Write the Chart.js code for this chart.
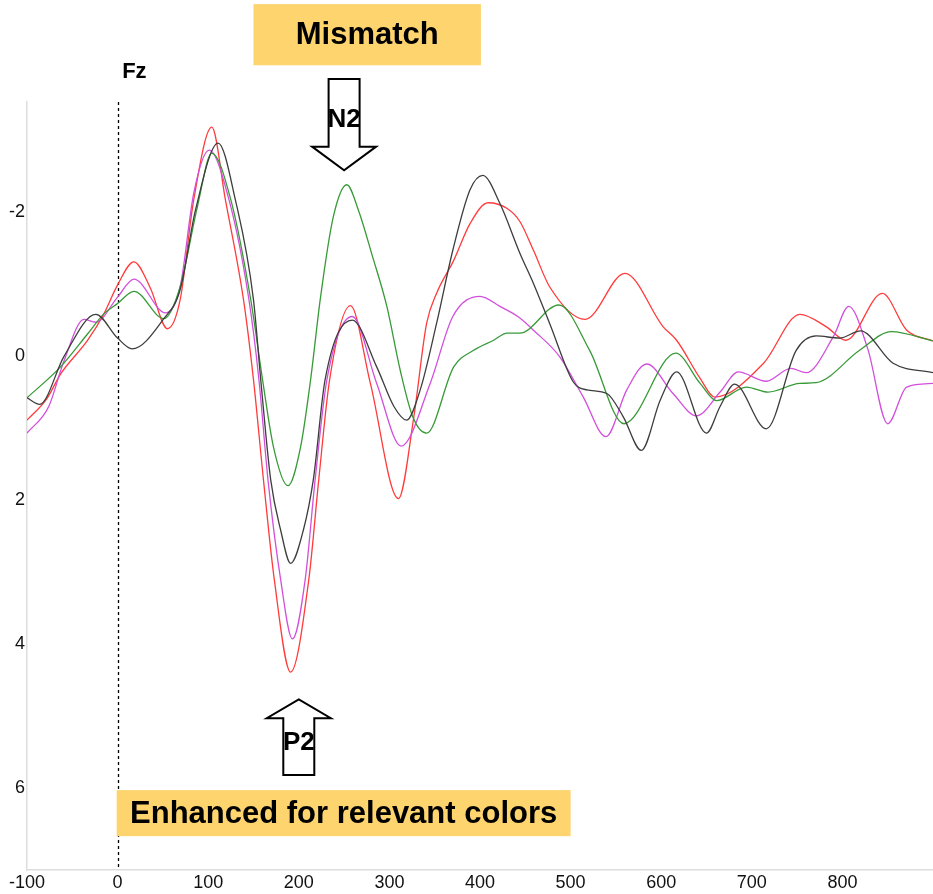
<!DOCTYPE html>
<html>
<head>
<meta charset="utf-8">
<script src="https://cdn.jsdelivr.net/npm/chart.js@4.4.0/dist/chart.umd.min.js"></script>
<style>
  html, body { margin: 0; padding: 0; background: #fff; }
  #wrap { width: 933px; height: 894px; position: relative; }
</style>
</head>
<body>
<div id="wrap"><canvas id="erp"></canvas></div>
<script>
// Fz waveforms: time (ms) / amplitude (uV), negative plotted upward
const redT = [-100, -78, -63, -33, -15, 0, 18, 36, 55, 69, 84, 104, 119, 139, 150, 161, 173, 191, 211, 222, 234, 257, 279, 310, 327, 341, 352, 371, 389, 409, 430, 444, 459, 477, 516, 560, 602, 617, 643, 659, 713, 753, 782, 804, 844, 871, 900];
const redV = [0.89, 0.59, 0.25, -0.22, -0.59, -0.99, -1.31, -0.95, -0.38, -0.78, -2.17, -3.18, -2.17, -0.78, 0.33, 1.72, 3.11, 4.39, 3.11, 1.72, 0.33, -0.70, 0.38, 1.98, 0.84, -0.45, -0.87, -1.33, -1.84, -2.13, -2.05, -1.87, -1.47, -0.96, -0.51, -1.15, -0.41, -0.22, 0.31, 0.57, 0.10, -0.58, -0.41, -0.22, -0.87, -0.36, -0.21];

const magentaT = [-100, -76, -59, -37, -24, 0, 18, 53, 69, 84, 101, 123, 145, 156, 166, 180, 193, 207, 218, 231, 259, 286, 313, 345, 370, 400, 422, 444, 459, 488, 514, 539, 562, 584, 613, 639, 665, 685, 716, 743, 760, 790, 807, 828, 850, 871, 900];
const magentaV = [1.07, 0.70, 0.06, -0.51, -0.47, -0.82, -1.07, -0.60, -0.96, -2.26, -2.86, -2.17, -0.78, 0.33, 1.72, 3.11, 3.93, 3.11, 1.72, 0.33, -0.55, 0.38, 1.25, 0.38, -0.55, -0.83, -0.69, -0.53, -0.36, 0.01, 0.57, 1.12, 0.47, 0.11, 0.52, 0.83, 0.50, 0.22, 0.35, 0.17, 0.23, -0.27, -0.69, -0.10, 0.94, 0.43, 0.38];

const greenT = [-100, -63, -33, -15, 0, 18, 51, 69, 88, 104, 125, 147, 160, 172, 188, 202, 213, 224, 238, 253, 266, 281, 297, 312, 326, 341, 371, 393, 415, 430, 444, 487, 521, 559, 616, 643, 661, 694, 718, 753, 771, 819, 854, 900];
const greenV = [0.58, 0.15, -0.31, -0.59, -0.73, -0.90, -0.52, -0.96, -2.07, -2.82, -2.17, -0.78, 0.33, 1.26, 1.80, 1.26, 0.33, -0.82, -1.93, -2.38, -2.02, -1.40, -0.70, 0.20, 0.85, 1.07, 0.15, -0.08, -0.22, -0.32, -0.32, -0.71, -0.08, 0.94, -0.04, 0.38, 0.62, 0.43, 0.50, 0.38, 0.37, -0.08, -0.34, -0.21];

const blackT = [-100, -86, -59, -24, 0, 16, 51, 69, 86, 111, 130, 150, 158, 169, 180, 191, 205, 216, 229, 259, 286, 305, 319, 334, 352, 370, 389, 403, 422, 444, 459, 477, 503, 518, 540, 558, 578, 599, 617, 650, 665, 681, 716, 749, 771, 797, 820, 856, 900];
const blackV = [0.58, 0.67, 0.00, -0.58, -0.25, -0.10, -0.52, -0.92, -2.03, -2.96, -2.17, -0.78, 0.33, 1.72, 2.42, 2.88, 2.42, 1.72, 0.33, -0.50, 0.15, 0.70, 0.89, 0.47, -0.45, -1.47, -2.31, -2.51, -2.12, -1.43, -1.01, -0.45, 0.36, 0.47, 0.52, 0.84, 1.31, 0.61, 0.22, 1.07, 0.70, 0.39, 1.01, -0.08, -0.28, -0.25, -0.35, 0.10, 0.23];

const xTicks = [-100, 0, 100, 200, 300, 400, 500, 600, 700, 800];
const yTicks = [-2, 0, 2, 4, 6];

const FONT = "'Liberation Sans', Arial, sans-serif";

function toPoints(ts, vs) {
    return ts.map((t, i) => ({ x: t, y: vs[i] }));
}

// first dataset ends up on top
const series = [
    { t: blackT, v: blackV, color: '#3d3d3d' },
    { t: greenT, v: greenV, color: '#379a37' },
    { t: magentaT, v: magentaV, color: '#d24fdc' },
    { t: redT, v: redV, color: '#ff3b3b' }
];

function drawArrow(ctx, cx, y0, y1, y2, shaftHalf, headHalf) {
    // y0 = shaft end, y1 = head base, y2 = tip
    ctx.beginPath();
    ctx.moveTo(cx - shaftHalf, y0);
    ctx.lineTo(cx + shaftHalf, y0);
    ctx.lineTo(cx + shaftHalf, y1);
    ctx.lineTo(cx + headHalf, y1);
    ctx.lineTo(cx, y2);
    ctx.lineTo(cx - headHalf, y1);
    ctx.lineTo(cx - shaftHalf, y1);
    ctx.closePath();
    ctx.fillStyle = '#fff';
    ctx.fill();
    ctx.lineWidth = 2;
    ctx.strokeStyle = '#000';
    ctx.stroke();
}

function labelBox(ctx, x0, y0, x1, y1, text, size) {
    ctx.fillStyle = '#fed46e';
    ctx.fillRect(x0, y0, x1 - x0, y1 - y0);
    ctx.fillStyle = '#000';
    ctx.font = 'bold ' + size + 'px ' + FONT;
    ctx.textAlign = 'center';
    ctx.textBaseline = 'middle';
    ctx.fillText(text, (x0 + x1) / 2, (y0 + y1) / 2 + 1);
}

const onsetLine = {
    id: 'onsetLine',
    beforeDatasetsDraw(chart) {
        const { ctx, chartArea, scales } = chart;
        const x = Math.round(scales.x.getPixelForValue(0)) + 0.5;
        ctx.save();
        ctx.strokeStyle = '#000';
        ctx.lineWidth = 1.3;
        ctx.setLineDash([3, 3]);
        ctx.beginPath();
        ctx.moveTo(x, chartArea.top);
        ctx.lineTo(x, chartArea.bottom);
        ctx.stroke();
        ctx.restore();
    }
};

const annotations = {
    id: 'annotations',
    afterDatasetsDraw(chart) {
        const { ctx, scales } = chart;
        const px = v => scales.x.getPixelForValue(v);
        const py = v => scales.y.getPixelForValue(v);
        ctx.save();

        // electrode name
        ctx.fillStyle = '#000';
        ctx.font = 'bold 22px ' + FONT;
        ctx.textAlign = 'left';
        ctx.textBaseline = 'alphabetic';
        ctx.fillText('Fz', px(5), py(-3.86));

        labelBox(ctx, px(150), py(-4.89), px(401), py(-4.04), 'Mismatch', 31);
        labelBox(ctx, px(-1), py(6.03), px(500), py(6.67), 'Enhanced for relevant colors', 31);

        // N2 arrow (pointing down)
        drawArrow(ctx, px(250), py(-3.85), py(-2.91), py(-2.58), 15.5, 32);
        // P2 arrow (pointing up)
        drawArrow(ctx, px(200), py(5.82), py(5.03), py(4.77), 15.5, 32);

        ctx.fillStyle = '#000';
        ctx.font = 'bold 26px ' + FONT;
        ctx.textAlign = 'center';
        ctx.textBaseline = 'middle';
        ctx.fillText('N2', px(250), py(-3.28));
        ctx.fillText('P2', px(200), py(5.375));
        ctx.restore();
    }
};

new Chart(document.getElementById('erp'), {
    type: 'line',
    data: {
        datasets: series.map(s => ({
            data: toPoints(s.t, s.v),
            borderColor: s.color,
            borderWidth: 1.3,
            pointRadius: 0,
            fill: false,
            cubicInterpolationMode: 'monotone'
        }))
    },
    options: {
        responsive: true,
        maintainAspectRatio: false,
        animation: false,
        layout: { padding: { top: 102, left: 0, right: 0, bottom: 0 } },
        plugins: {
            legend: { display: false },
            tooltip: { enabled: false }
        },
        scales: {
            x: {
                type: 'linear',
                min: -100,
                max: 900,
                afterBuildTicks: scale => { scale.ticks = xTicks.map(v => ({ value: v })); },
                afterFit: scale => { scale.height = 24; },
                grid: { display: false, drawTicks: false },
                border: { display: true, color: '#dddddd', width: 1.5 },
                ticks: { color: '#111', font: { family: FONT, size: 18 }, padding: 2, maxRotation: 0 }
            },
            y: {
                type: 'linear',
                reverse: true,
                min: -3.53,
                max: 7.14,
                afterBuildTicks: scale => { scale.ticks = yTicks.map(v => ({ value: v })); },
                afterFit: scale => { scale.width = 27; },
                grid: { display: false, drawTicks: false },
                border: { display: true, color: '#dddddd', width: 1.5 },
                ticks: { color: '#111', font: { family: FONT, size: 18 }, padding: 2 }
            }
        }
    },
    plugins: [onsetLine, annotations]
});
</script>
</body>
</html>
